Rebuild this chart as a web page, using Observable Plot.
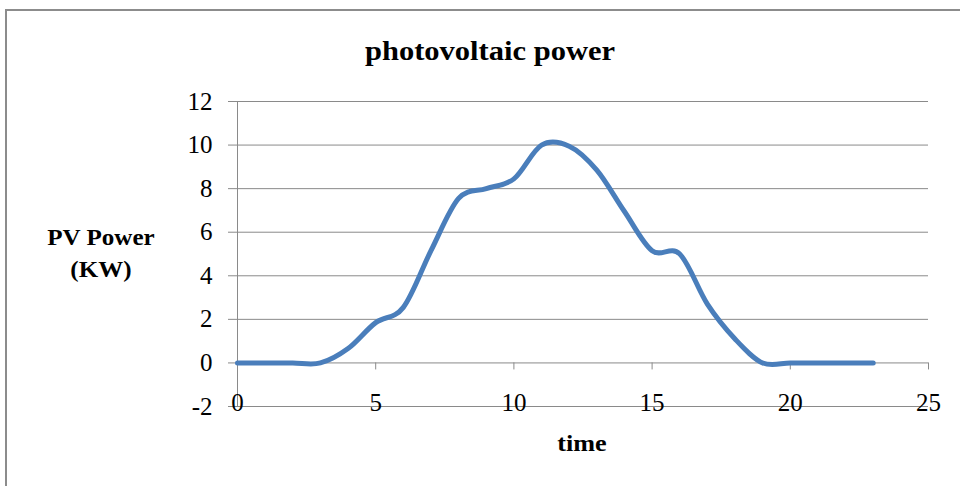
<!DOCTYPE html>
<html>
<head>
<meta charset="utf-8">
<script src="https://cdn.jsdelivr.net/npm/d3@7"></script>
<script src="https://cdn.jsdelivr.net/npm/@observablehq/plot@0.6"></script>
<style>
  html, body { margin: 0; padding: 0; background: #fff; }
  #wrap { position: relative; width: 960px; height: 486px; overflow: hidden; background: #fff; font-family: "Liberation Serif", "Times New Roman", serif; }
  #border { position: absolute; left: 5px; top: 9px; width: 1000px; height: 600px; border-left: 2px solid #8c8c8c; border-top: 2px solid #8c8c8c; box-sizing: border-box; }
  .lbl { position: absolute; font-weight: bold; color: #000; white-space: nowrap; transform: translate(-50%, -50%) scaleX(1.09); }
  #title { left: 490px; top: 51px; font-size: 28px; }
  #ylab { left: 101px; top: 254px; font-size: 23px; text-align: center; line-height: 32px; }
  #xlab { left: 582px; top: 443px; font-size: 24px; }
  #chart { position: absolute; left: 0; top: 0; }
</style>
</head>
<body>
<div id="wrap">
  <div id="chart"></div>
  <div id="border"></div>
  <div id="title" class="lbl">photovoltaic power</div>
  <div id="ylab" class="lbl">PV Power<br>(KW)</div>
  <div id="xlab" class="lbl">time</div>
</div>
<script>
const hours = [0,1,2,3,4,5,6,7,8,9,10,11,12,13,14,15,16,17,18,19,20,21,22,23];
const power = [0,0,0,0,0.66,1.85,2.55,5.15,7.55,8.0,8.45,10.0,9.95,8.85,6.95,5.15,5.0,2.7,1.1,0,0,0,0,0];
const xTicks = [0,5,10,15,20,25];
const yTicks = [-2,0,2,4,6,8,10,12];

const data = hours.map((h, i) => ({time: h, power: power[i]}));
const gray = "#8a8a8a";
const serif = "'Liberation Serif', 'Times New Roman', serif";

const chart = Plot.plot({
  width: 960,
  height: 486,
  marginLeft: 237,
  marginRight: 32,
  marginTop: 101,
  marginBottom: 80,
  x: {domain: [0, 25]},
  y: {domain: [-2, 12]},
  style: {fontFamily: serif, fontSize: "25px", color: "#000", background: "transparent", overflow: "visible"},
  marks: [
    Plot.gridY(yTicks, {stroke: gray, strokeOpacity: 1, strokeWidth: 1}),
    Plot.ruleX([0], {stroke: gray, strokeWidth: 1}),
    Plot.axisY(yTicks, {tickSize: 9, tickPadding: 16, stroke: gray, fill: "#000", tickFormat: d => String(d), label: null}),
    Plot.ruleX(xTicks, {y1: 0, y2: 0, insetBottom: -7, stroke: gray, strokeWidth: 1}),
    Plot.axisX(xTicks, {tickSize: 0, tickPadding: -13, fill: "#000", tickFormat: d => String(d), label: null}),
    Plot.line(data, {x: "time", y: "power", curve: "cardinal", tension: 0, stroke: "#4A7EBB", strokeWidth: 5})
  ]
});
d3.select(chart).selectAll("text").style("font-family", serif).style("font-size", "25px");
document.getElementById("chart").appendChild(chart);
</script>
</body>
</html>
